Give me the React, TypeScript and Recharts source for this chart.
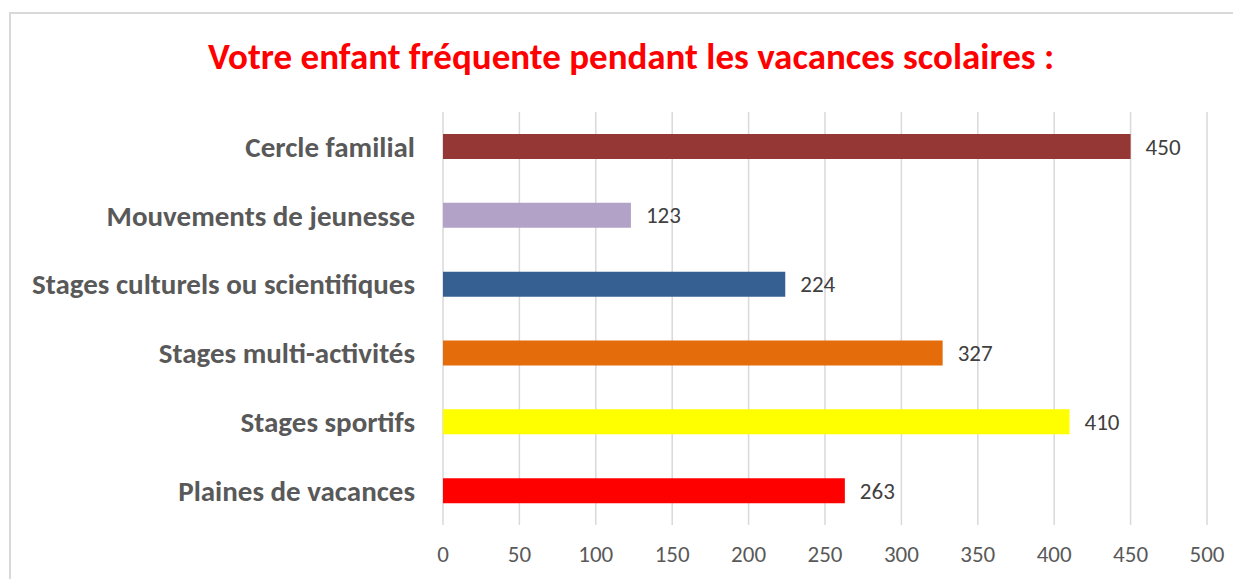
import React from 'react';
import { BarChart, Bar, XAxis, YAxis, CartesianGrid, Cell, LabelList } from 'recharts';

const categories = [
  'Cercle familial',
  'Mouvements de jeunesse',
  'Stages culturels ou scientifiques',
  'Stages multi-activités',
  'Stages sportifs',
  'Plaines de vacances',
];
const values = [450, 123, 224, 327, 410, 263];
const barColors = ['#953735', '#b3a2c7', '#376092', '#e46c0a', '#ffff00', '#ff0000'];
const xTicks = [0, 50, 100, 150, 200, 250, 300, 350, 400, 450, 500];
const title = 'Votre enfant fréquente pendant les vacances scolaires :';

const data = categories.map((name, i) => ({ name, value: values[i] }));
const FONT = 'Carlito, Lato, sans-serif';

export default function App() {
  return (
    <div
      style={{
        position: 'relative',
        marginLeft: 1,
        marginTop: 4,
        width: 1240,
        height: 575,
        borderTop: '2px solid #d9d9d9',
        borderLeft: '2px solid #d9d9d9',
        background: '#fff',
        fontFamily: FONT,
      }}
    >
      <div
        style={{
          position: 'absolute',
          top: 21,
          left: 0,
          width: 1240,
          textAlign: 'center',
          color: '#ff0000',
          fontWeight: 'bold',
          fontSize: 37,
          lineHeight: 1.2,
          fontFamily: FONT,
          whiteSpace: 'nowrap',
        }}
      >
        {title}
      </div>
      <div style={{ position: 'absolute', left: 0, top: 0 }}>
        <BarChart
          width={1228}
          height={560}
          data={data}
          layout="vertical"
          margin={{ top: 98, right: 32, bottom: 9, left: 0 }}
          barSize={25}
        >
          <CartesianGrid horizontal={false} vertical={true} stroke="#d9d9d9" strokeWidth={1.5} />
          <XAxis
            type="number"
            domain={[0, 500]}
            ticks={xTicks}
            axisLine={false}
            tickLine={false}
            tickSize={0}
            tickMargin={21}
            height={40}
            tick={{ fill: '#595959', fontSize: 23, fontFamily: FONT }}
          />
          <YAxis
            type="category"
            dataKey="name"
            width={432}
            axisLine={false}
            tickLine={false}
            tickSize={0}
            tickMargin={28}
            tick={{ fill: '#595959', fontSize: 29, fontWeight: 'bold', fontFamily: FONT }}
          />
          <Bar dataKey="value" isAnimationActive={false}>
            {data.map((d, i) => (
              <Cell key={d.name} fill={barColors[i]} />
            ))}
            <LabelList
              dataKey="value"
              position="right"
              offset={15}
              fill="#404040"
              fontSize={23}
              fontFamily={FONT}
            />
          </Bar>
        </BarChart>
      </div>
    </div>
  );
}
